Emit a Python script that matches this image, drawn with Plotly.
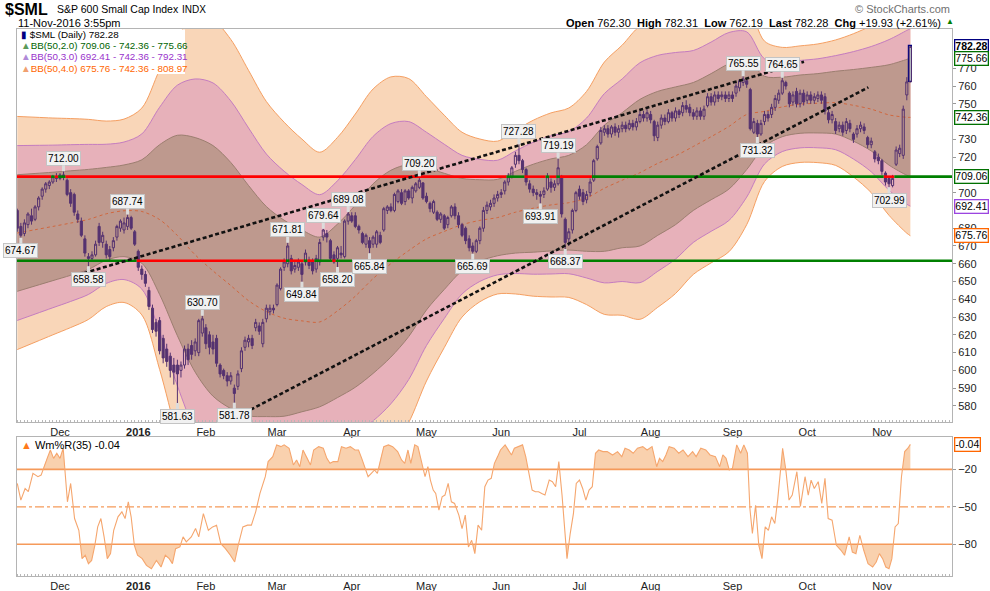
import plotly.graph_objects as go

# ------------------------------------------------------------------ data
# trading-day index 0 = 12-Nov-2015 ... 251 = 11-Nov-2016
opens = [690, 681, 677, 682, 687, 685, 692, 698, 702, 704,
         706, 709, 708, 710, 707, 700, 699, 688, 684, 674,
         664, 663, 665, 681, 672, 671, 668, 669, 675, 680,
         679, 681, 686, 678, 667, 657, 654, 645, 635, 627,
         628, 618, 612, 608, 603, 603, 600, 603, 612, 614,
         611, 610, 621, 624, 620, 616, 618, 603, 600, 597,
         594, 590, 591, 601, 613, 616, 618, 624, 625, 615,
         629, 633, 635, 637, 646, 658, 660, 663, 657, 658,
         660, 661, 662, 661, 657, 661, 675, 677, 673, 665,
         663, 666, 664, 684, 687, 687, 681, 677, 671, 673,
         671, 671, 676, 679, 690, 692, 690, 695, 700, 695,
         701, 697, 701, 703, 705.5, 698, 694, 689, 689, 685,
         687, 682, 687, 692, 687, 682, 680, 674, 670, 667,
         673, 680, 690, 692, 694, 697, 699, 701, 706, 709,
         716, 721, 718, 713, 705, 702, 700, 699, 699, 702,
         706, 703, 705, 709, 685, 674, 679, 690, 702, 700,
         696, 700, 707, 719, 728, 734, 736, 733, 737, 734,
         736, 738, 736, 739, 737, 740, 744, 742, 744, 740,
         731, 738, 742, 740, 745, 742, 746, 745, 749, 748,
         745, 743, 746, 743, 749, 754, 751, 755, 754, 755,
         753, 755, 756, 759, 762, 763, 758, 734, 739, 733,
         740, 744, 744, 748, 752, 756, 762, 756, 751, 757,
         750, 756, 752, 755, 752, 753, 755, 754, 745, 741,
         740, 736, 738, 735, 739, 733, 733, 736, 737, 731,
         727, 723, 720, 718, 711, 708, 704, 716, 722, 721,
         755, 762.30]
highs = [691, 683, 685, 689, 691, 693, 698, 703, 706, 707,
         710, 711, 711, 712.00, 708, 702, 700, 690, 686, 676,
         666, 667, 673, 683, 678, 673, 670, 675, 682, 685,
         686, 687.74, 687, 679, 668, 659, 656, 647, 637, 629,
         630, 620, 615, 610, 607, 606, 605, 614, 615, 617,
         618, 629, 630.70, 626, 622, 620, 620, 604, 601, 599,
         599, 592, 600, 613, 619, 620, 620, 629, 627, 629,
         637, 637, 637, 649, 658, 663, 671.81, 665, 661, 663,
         662, 668, 664, 663, 665, 674, 679.64, 679, 674, 667,
         670, 670, 685, 689.08, 689, 689, 682, 678, 677, 675,
         676, 679, 678, 692, 693, 694, 700, 702, 702, 702,
         702, 704, 706, 709.20, 706, 700, 695, 696, 690, 689,
         688, 687, 693, 694, 689, 683, 681, 676, 672, 674,
         681, 692, 695, 696, 699, 701, 702, 707, 711, 715,
         723, 727.28, 719, 714, 707, 704, 702, 701, 703, 711,
         708, 707, 719.19, 710, 686, 680, 691, 701, 704, 702,
         701, 708, 719, 727, 737, 738, 738, 738, 739, 738,
         740, 740, 741, 741, 742, 746, 746, 747, 746, 741,
         740, 744, 744, 747, 746, 748, 747, 751, 752, 750,
         747, 748, 748, 749, 756, 756, 757, 757, 757, 757,
         757, 757, 762, 764, 765.55, 764, 759, 742, 741, 741,
         746, 746, 750, 755, 758, 764.65, 763, 757, 757, 759,
         758, 758, 757, 757, 756, 757, 757, 756, 747, 746,
         742, 740, 740, 742, 741, 734, 738, 740, 739, 732,
         731, 724, 722, 719, 712, 709, 710, 726, 727, 749,
         765, 782.31]
lows = [678, 674.67, 675.5, 680, 682, 684, 690, 696, 700, 702,
        705, 706, 707, 707, 698, 692, 687, 683, 675, 664,
        658.58, 661, 664, 670, 669, 663, 662, 667, 673, 678,
        677, 679, 679, 670, 656, 651, 647, 634, 621, 619,
        609, 604, 602, 596, 592, 581.63, 596, 601, 603, 606,
        608, 608, 619, 612, 609, 609, 602, 596, 595, 591,
        592, 581.78, 589, 599, 611, 613, 612, 622, 620, 613,
        627, 631, 632, 636, 645, 656, 658, 654, 655, 656,
        649.84, 659, 657, 654, 655, 659, 673, 672, 662, 660,
        658.20, 663, 663, 682, 683, 680, 677, 671, 669, 665.84,
        669, 669, 671, 678, 688, 689, 689, 694, 693, 693,
        696, 694, 700, 702, 696, 694, 689, 688, 684, 683,
        679, 680, 686, 685, 680, 675, 671, 667, 665.69, 666,
        671, 678, 688, 690, 692, 695, 697, 699, 704, 708,
        714, 716, 711, 704, 700, 698, 696, 693.91, 697, 701,
        700, 701, 704, 686, 668.37, 670, 677, 689, 696, 693,
        694, 698, 706, 718, 727, 732, 731, 731, 732, 731,
        734, 734, 735, 735, 735, 739, 740, 740, 739, 729,
        729, 736, 738, 739, 740, 740, 742, 743, 745, 743,
        741, 741, 741, 741, 748, 749, 749, 751, 752, 751,
        751, 751, 754, 757, 760, 759, 735, 733, 731.32, 732,
        738, 740, 742, 746, 750, 755, 758, 748, 749, 748,
        748, 749, 750, 750, 750, 751, 750, 744, 739, 739,
        733, 734, 732, 733, 734, 728, 731, 734, 733, 725,
        725, 717, 716, 710, 704, 702.99, 703, 715, 720, 719,
        752, 762.19]
closes = [680, 676, 683, 688, 684, 692, 697, 702, 705, 706,
          709, 708, 710, 709, 699, 694, 689, 685, 676, 666,
          663, 665, 671, 672, 676, 665, 664, 673, 681, 684,
          683, 686, 680, 671, 658, 654, 649, 636, 623, 622,
          611, 607, 605, 600, 599, 598, 603, 612, 606, 609,
          616, 628, 629, 615, 613, 612, 604, 598, 597, 594,
          597, 587, 598, 611, 617, 618, 614, 627, 622, 627,
          635, 635, 634, 648, 657, 661, 670, 656, 659, 661,
          654, 666, 659, 656, 663, 672, 679, 675, 663, 661,
          669, 665, 684, 688, 684, 681, 679, 672, 676, 669,
          675, 678, 672, 691, 692, 690, 699, 701, 694, 701,
          697, 703, 705, 707, 697, 695, 691, 695, 685, 688,
          680, 686, 692, 687, 682, 676, 673, 669, 667, 673,
          680, 690, 693, 694, 697, 699, 700, 706, 709, 714,
          721, 718, 713, 706, 702, 700, 699, 698, 701, 709,
          703, 705, 714, 688, 672, 678, 690, 700, 698, 695,
          699, 706, 718, 726, 735, 736, 733, 737, 734, 736,
          738, 736, 739, 737, 740, 744, 742, 745, 741, 732,
          738, 742, 740, 745, 742, 746, 744, 749, 747, 745,
          743, 746, 743, 747, 754, 751, 755, 753, 755, 753,
          755, 753, 760, 763, 764, 761, 736, 740, 733, 739,
          744, 742, 748, 753, 756, 763, 760, 750, 755, 750,
          756, 751, 755, 752, 754, 755, 752, 746, 741, 744,
          735, 738, 734, 740, 736, 730, 736, 738, 735, 727,
          729, 719, 718, 712, 706, 705, 708, 724, 725, 747,
          762.35, 782.28]
days = list(range(len(closes)))

month_days = [12, 34, 53, 73, 94, 115, 136, 158, 178, 201, 222, 243]
month_labels = ["Dec", "<b>2016</b>", "Feb", "Mar", "Apr", "May", "Jun",
                "Jul", "Aug", "Sep", "Oct", "Nov"]
price_ticks = [580, 590, 600, 610, 620, 630, 640, 650, 660, 670, 680,
               700, 720, 730, 750, 760, 770]

# Bollinger (50, 2.0) envelope
bb_day = [0, 5, 10, 15, 20, 25, 30, 35, 40, 45, 50, 55, 60, 65, 70, 75, 80,
          85, 90, 95, 100, 105, 110, 115, 120, 125, 130, 135, 140, 145, 150,
          155, 160, 165, 170, 175, 180, 185, 190, 195, 200, 205, 210, 215,
          220, 225, 230, 235, 240, 245, 250, 251]
bb_upper2 = [710.1, 710.8, 711.5, 712.3, 713.1, 714.2, 715.6, 718.5, 727, 732.3,
             731, 726.5, 717, 704, 692.2, 684.5, 679, 675, 682.3, 693, 705,
             712.6, 715.8, 714, 710.9, 708, 707.3, 707.5, 712, 716, 719, 721,
             727, 738, 745, 752.5, 757, 759.5, 762, 767, 772.5, 775, 765.5,
             765, 766.2, 767, 768.3, 769.3, 770.5, 772, 775, 775.66]
bb_lower2 = [644.5, 647.5, 650.5, 653.5, 656.8, 662, 664, 660.3, 642.7, 619.5,
             599, 585.5, 578.5, 574.4, 574, 574.2, 576.7, 579.5, 584.7, 590.5,
             598.3, 607.5, 619, 634, 645.5, 656, 661.5, 664.5, 666, 666.5,
             667.2, 667.7, 667, 667, 669, 670, 676, 682, 690, 696, 702, 713,
             726, 731.5, 733.4, 733.6, 733, 729, 723.5, 715.5, 709.8, 709.06]

# Williams %R (35)
wr_day = [0.0, 1.0, 2.2, 3.1, 4.4, 5.8, 6.7, 7.6, 8.4, 9.3,
          10.2, 11.1, 12.0, 12.9, 14.1, 15.0, 16.1, 17.3, 18.2, 19.1,
          20.0, 20.9, 21.8, 22.6, 23.5, 24.4, 25.3, 26.2, 27.1, 28.3,
          29.4, 30.3, 31.2, 32.0, 32.9, 33.8, 35.1, 36.3, 37.7, 39.1,
          40.4, 41.6, 42.7, 43.6, 44.5, 45.7, 46.6, 47.5, 48.9, 50.1,
          51.0, 52.3, 53.7, 54.9, 56.0, 57.2, 58.5, 59.9, 61.1, 62.2,
          63.4, 64.7, 65.8, 67.0, 68.2, 69.7, 70.5, 71.8, 72.9, 74.1,
          75.0, 76.4, 77.6, 78.5, 79.4, 80.3, 81.6, 82.4, 83.3, 84.7,
          86.0, 87.0, 87.9, 88.8, 90.1, 91.1, 92.4, 93.6, 94.9, 95.9,
          96.8, 97.7, 98.6, 99.5, 100.4, 101.2, 102.1, 103.0, 104.3, 105.5,
          106.9, 108.0, 108.9, 109.8, 110.6, 111.7, 112.6, 113.7, 114.6, 115.4,
          116.1, 116.9, 117.6, 118.5, 119.4, 120.2, 121.1, 122.0, 122.9, 124.1,
          125.0, 125.9, 126.8, 127.7, 128.6, 129.5, 130.5, 131.4, 132.3, 133.2,
          134.1, 135.0, 135.8, 137.1, 138.0, 138.9, 139.7, 141.0, 142.0, 142.9,
          143.8, 144.7, 145.6, 146.5, 147.4, 148.3, 149.5, 150.4, 151.3, 152.2,
          153.1, 153.9, 154.5, 155.4, 156.3, 157.1, 158.0, 158.9, 159.8, 160.7,
          161.6, 162.5, 163.4, 164.6, 165.8, 167.3, 168.7, 169.9, 170.8, 172.0,
          173.1, 174.3, 175.8, 177.0, 178.4, 179.7, 180.5, 181.4, 182.3, 183.2,
          184.6, 185.9, 187.1, 188.5, 189.8, 190.8, 192.1, 193.5, 194.7, 196.2,
          197.4, 198.3, 199.2, 200.1, 201.0, 202.2, 203.3, 204.2, 205.2, 205.9,
          206.6, 207.5, 208.4, 209.3, 210.2, 211.1, 212.0, 212.9, 213.7, 215.1,
          216.0, 216.9, 217.8, 219.1, 220.1, 221.4, 222.3, 223.1, 224.0, 225.1,
          226.1, 227.0, 227.9, 229.0, 230.2, 231.5, 232.5, 233.8, 234.7, 235.7,
          236.8, 237.9, 239.1, 240.4, 241.4, 242.3, 243.2, 244.1, 245.0, 245.8,
          246.7, 247.6, 248.5, 249.4, 250.3, 251.0]
wr_val = [-31.3, -44.6, -35.3, -37.9, -23.2, -25.9, -24.6, -16.5, -11.2, -4.5,
          -11.2, -7.1, -11.2, -3.1, -46.0, -31.3, -59.4, -68.8, -91.5, -88.8,
          -95.5, -92.9, -80.8, -66.1, -59.4, -74.1, -91.5, -87.5, -68.8, -58.0,
          -54.0, -59.4, -46.0, -58.0, -80.8, -88.8, -91.5, -96.9, -99.6, -92.9,
          -98.2, -88.8, -91.5, -95.5, -83.5, -82.1, -74.1, -78.1, -74.1, -67.4,
          -74.1, -55.4, -68.8, -66.1, -64.7, -79.5, -83.5, -88.8, -94.2, -79.5,
          -66.1, -64.7, -64.7, -54.0, -39.3, -25.9, -13.8, -9.8, -0.4, -1.8,
          -0.4, -3.1, -16.5, -12.5, -17.9, -4.5, -11.2, -16.5, -4.5, -1.8,
          -3.1, -11.2, -15.2, -13.8, -13.8, -1.8, -3.1, -1.8, -4.5, -4.5,
          -11.2, -17.9, -25.9, -23.2, -20.5, -23.2, -11.2, -1.8, -0.4, -1.8,
          -5.8, -12.5, -15.2, -4.5, -15.2, -0.4, -1.8, -15.2, -25.9, -17.9,
          -28.6, -36.6, -39.3, -52.7, -42.0, -40.6, -31.3, -46.0, -47.3, -56.7,
          -67.4, -56.7, -82.1, -76.8, -87.5, -64.7, -68.8, -33.9, -28.6, -27.2,
          -15.2, -9.8, -4.5, -0.4, -4.5, -8.5, -3.1, -1.8, -0.4, -9.8,
          -24.6, -36.6, -37.9, -37.9, -39.3, -40.6, -28.6, -29.9, -33.9, -13.8,
          -40.6, -74.1, -91.5, -71.4, -55.4, -31.3, -28.6, -35.3, -44.6, -36.6,
          -33.9, -7.1, -4.5, -5.8, -5.8, -8.5, -5.8, -9.8, -3.1, -4.5,
          -7.1, -3.1, -1.8, -4.5, -1.8, -17.9, -11.2, -13.8, -8.5, -1.8,
          -3.1, -7.1, -4.5, -9.8, -5.8, -9.8, -3.1, -4.5, -8.5, -9.8,
          -17.9, -8.5, -11.2, -20.5, -19.2, -0.4, -7.1, -0.4, -7.1, -51.3,
          -71.4, -48.7, -80.8, -91.5, -66.1, -68.8, -58.0, -63.4, -44.6, -3.1,
          -20.5, -44.6, -40.6, -21.9, -49.7, -25.9, -40.6, -28.6, -35.3, -29.9,
          -47.3, -27.2, -59.4, -60.7, -80.8, -84.8, -88.8, -74.1, -86.2, -87.5,
          -72.8, -84.8, -95.5, -98.2, -94.2, -87.5, -91.5, -98.2, -99.6, -91.5,
          -66.1, -63.4, -25.9, -5.8, -3.1, -0.04]
wr_levels = [-20, -50, -80]

# horizontal support / resistance levels and trend lines
level_values = [709.0, 661.7]
trend_day = [[15.3, 221.1], [59.1, 239.2]]
trend_val = [[652.7, 773.7], [571.1, 759.3]]

# labelled swing points
swing_day = [1, 13, 20, 31, 45, 52, 61, 76, 80, 86, 90, 93, 99, 113, 128,
             141, 147, 152, 154, 204, 208, 215, 245]
swing_val = [674.67, 712.00, 658.58, 687.74, 581.63, 630.70, 581.78, 671.81,
             649.84, 679.64, 658.20, 689.08, 665.84, 709.20, 665.69, 727.28,
             693.91, 719.19, 668.37, 765.55, 731.32, 764.65, 702.99]
swing_kind = ["L", "H", "L", "H", "L", "H", "L", "H", "L", "H", "L", "H", "L",
              "H", "L", "H", "L", "H", "L", "H", "L", "H", "L"]

# ------------------------------------------------------------------ layout helpers
W, H = 990, 591
FONT = "Liberation Sans, Arial, sans-serif"
X_RANGE = [-0.08, 262.7]
Y_RANGE = [570.95, 792.1]
Y2_RANGE = [-105.4, 5.9]
CANDLE = "#553270"


def px(xp):
    return xp / W


def py(yp):
    return 1 - yp / H


fig = go.Figure()

# ------------------------------------------------------------------ Bollinger bands (base layer)
mid = [(u + l) / 2 for u, l in zip(bb_upper2, bb_lower2)]
sd = [(u - l) / 4 for u, l in zip(bb_upper2, bb_lower2)]
band_styles = [(4, "#F9D6B8", "#F59F62"), (3, "#E7B1BA", "#C47CC0"),
               (2, "#BE998E", "#9C7E70")]
for k, fillc, edge in band_styles:
    up = [m + k * s for m, s in zip(mid, sd)]
    lo = [m - k * s for m, s in zip(mid, sd)]
    fig.add_trace(go.Scatter(x=bb_day, y=lo, mode="lines",
                             line=dict(color=edge, width=1, shape="spline", smoothing=0.9),
                             hoverinfo="skip"))
    fig.add_trace(go.Scatter(x=bb_day, y=up, mode="lines", fill="tonexty",
                             fillcolor=fillc,
                             line=dict(color=edge, width=1, shape="spline", smoothing=0.9),
                             hoverinfo="skip"))
fig.add_trace(go.Scatter(x=bb_day, y=mid, mode="lines",
                         line=dict(color="#D0673E", width=1, dash="dot",
                                   shape="spline", smoothing=0.9),
                         hoverinfo="skip"))

# ------------------------------------------------------------------ candles (overlay layer)
fig.add_trace(go.Candlestick(
    x=days, open=opens, high=highs, low=lows, close=closes,
    increasing=dict(line=dict(color=CANDLE, width=1), fillcolor="rgba(0,0,0,0)"),
    decreasing=dict(line=dict(color=CANDLE, width=1), fillcolor=CANDLE),
    whiskerwidth=0, hoverinfo="skip", xaxis="x", yaxis="y3"))
fig.add_trace(go.Bar(x=[days[-1]], base=[opens[-1]], y=[closes[-1] - opens[-1]],
                     width=0.85,
                     marker=dict(color="#EEF7DA", line=dict(color="#000080", width=1.2)),
                     hoverinfo="skip", xaxis="x", yaxis="y3"))

# ------------------------------------------------------------------ level lines (green above, red below)
for level in level_values:
    runs = []
    cur, start = None, None
    for i, c in enumerate(closes):
        col = "#008000" if c >= level else "#FF0000"
        if col != cur:
            if cur is not None:
                runs.append([cur, start, i - 0.5])
            cur, start = col, i - 0.5
    runs.append([cur, start, len(closes) - 0.5])
    runs[0][1] = X_RANGE[0]
    runs[-1][2] = X_RANGE[1]
    for col in ("#FF0000", "#008000"):
        xs, ys = [], []
        for r in runs:
            if r[0] == col:
                xs += [r[1], r[2], None]
                ys += [level, level, None]
        fig.add_trace(go.Scatter(x=xs, y=ys, mode="lines",
                                 line=dict(color=col, width=2.6), hoverinfo="skip",
                                 xaxis="x", yaxis="y3"))

# ------------------------------------------------------------------ trend lines
for tx, tv in zip(trend_day, trend_val):
    fig.add_trace(go.Scatter(x=tx, y=tv, mode="lines",
                             line=dict(color="#111111", width=2.6, dash="4px,2.5px"),
                             hoverinfo="skip", xaxis="x", yaxis="y3"))


# ------------------------------------------------------------------ Williams %R panel
def insert_crossings(xs, ys, level):
    ox, oy = [xs[0]], [ys[0]]
    for i in range(1, len(xs)):
        y0, y1 = ys[i - 1], ys[i]
        if (y0 - level) * (y1 - level) < 0:
            t = (level - y0) / (y1 - y0)
            ox.append(xs[i - 1] + t * (xs[i] - xs[i - 1]))
            oy.append(level)
        ox.append(xs[i])
        oy.append(ys[i])
    return ox, oy


fx, fy = insert_crossings(wr_day, wr_val, wr_levels[0])
fx, fy = insert_crossings(fx, fy, wr_levels[2])
WR_FILL = "#F9D1AE"
WR_LINE = "#F5A66E"
fig.add_trace(go.Scatter(x=fx, y=[wr_levels[0]] * len(fx), mode="lines",
                         line=dict(width=0, color=WR_LINE), xaxis="x2", yaxis="y2",
                         hoverinfo="skip"))
fig.add_trace(go.Scatter(x=fx, y=[max(v, wr_levels[0]) for v in fy], mode="lines",
                         line=dict(width=0, color=WR_LINE), fill="tonexty",
                         fillcolor=WR_FILL, xaxis="x2", yaxis="y2", hoverinfo="skip"))
fig.add_trace(go.Scatter(x=fx, y=[wr_levels[2]] * len(fx), mode="lines",
                         line=dict(width=0, color=WR_LINE), xaxis="x2", yaxis="y2",
                         hoverinfo="skip"))
fig.add_trace(go.Scatter(x=fx, y=[min(v, wr_levels[2]) for v in fy], mode="lines",
                         line=dict(width=0, color=WR_LINE), fill="tonexty",
                         fillcolor=WR_FILL, xaxis="x2", yaxis="y2", hoverinfo="skip"))
for lv, dash, wd in [(wr_levels[0], "solid", 1.6), (wr_levels[1], "dashdot", 1.2),
                     (wr_levels[2], "solid", 1.6)]:
    fig.add_trace(go.Scatter(x=X_RANGE, y=[lv, lv], mode="lines",
                             line=dict(color="#F59A5A", width=wd, dash=dash),
                             xaxis="x2", yaxis="y2", hoverinfo="skip"))
fig.add_trace(go.Scatter(x=wr_day, y=wr_val, mode="lines",
                         line=dict(color=WR_LINE, width=1.1), xaxis="x2", yaxis="y2",
                         hoverinfo="skip"))

# ------------------------------------------------------------------ annotations
ann = []
for d, v, kd in zip(swing_day, swing_val, swing_kind):
    ann.append(dict(x=d, y=v, xref="x", yref="y", text=f"{v:.2f}", showarrow=True,
                    arrowhead=0, arrowwidth=3, arrowcolor="#DCDCDC", ax=0,
                    ay=-13 if kd == "H" else 13,
                    font=dict(family=FONT, size=10, color="#000"),
                    bgcolor="#F1F1F1", bordercolor="#C4C4C4", borderwidth=1, borderpad=1))

mid_last = mid[-1]
sd_last = sd[-1]
tags = [(mid_last + 3 * sd_last, "#9B45E0", False), (closes[-1], "#000080", True),
        (mid_last + 2 * sd_last, "#007000", False), (mid_last, "#007000", False),
        (mid_last - 2 * sd_last, "#007000", False), (mid_last - 3 * sd_last, "#9B45E0", False),
        (mid_last - 4 * sd_last, "#FF6600", False)]
for v, col, bold in tags:
    txt = f"{v:.2f}"
    if bold:
        txt = f"<b>{txt}</b>"
    ann.append(dict(x=px(954), y=v, xref="paper", yref="y", text=txt, showarrow=False,
                    xanchor="left", yanchor="middle",
                    font=dict(family=FONT, size=10.5, color="#000"),
                    bgcolor="#FFFFFF", bordercolor=col, borderwidth=1.3, borderpad=0))
ann.append(dict(x=px(954), y=wr_val[-1], xref="paper", yref="y2", text=f"{wr_val[-1]:.2f}",
                showarrow=False, xanchor="left", yanchor="middle",
                font=dict(family=FONT, size=10.5, color="#000"), bgcolor="#FFFFFF",
                bordercolor="#FF6600", borderwidth=1.3, borderpad=0))

ann += [
    dict(x=px(3), y=py(9), xref="paper", yref="paper", text="<b>$SML</b>",
         showarrow=False, xanchor="left", yanchor="middle",
         font=dict(family=FONT, size=16, color="#000")),
    dict(x=px(55), y=py(9), xref="paper", yref="paper", text="S&P 600 Small Cap Index",
         showarrow=False, xanchor="left", yanchor="middle",
         font=dict(family=FONT, size=10.5, color="#000")),
    dict(x=px(180), y=py(9), xref="paper", yref="paper", text="INDX",
         showarrow=False, xanchor="left", yanchor="middle",
         font=dict(family=FONT, size=10, color="#000")),
    dict(x=px(16), y=py(23), xref="paper", yref="paper", text="11-Nov-2016 3:55pm",
         showarrow=False, xanchor="left", yanchor="middle",
         font=dict(family=FONT, size=11, color="#000")),
    dict(x=px(952), y=py(9), xref="paper", yref="paper", text="© StockCharts.com",
         showarrow=False, xanchor="right", yanchor="middle",
         font=dict(family=FONT, size=11, color="#707070")),
    dict(x=px(943), y=py(22.5), xref="paper", yref="paper",
         text="<b>Open</b> 762.30 &nbsp;<b>High</b> 782.31 &nbsp;<b>Low</b> 762.19 "
              "&nbsp;<b>Last</b> 782.28 &nbsp;<b>Chg</b> +19.93 (+2.61%)",
         showarrow=False, xanchor="right", yanchor="middle",
         font=dict(family=FONT, size=11, color="#000")),
    dict(x=px(944), y=py(22), xref="paper", yref="paper", text="▲",
         showarrow=False, xanchor="left", yanchor="middle",
         font=dict(family=FONT, size=8, color="#008000")),
]
legend_rows = [
    ("<span style='color:#000080'>▮</span> $SML (Daily) 782.28", "#000000", 35),
    ("<span style='color:#5a9a5a'>▲</span>BB(50,2.0) 709.06 - 742.36 - 775.66", "#006400", 46),
    ("<span style='color:#b08ad8'>▲</span>BB(50,3.0) 692.41 - 742.36 - 792.31", "#9933CC", 57),
    ("<span style='color:#f0a070'>▲</span>BB(50,4.0) 675.76 - 742.36 - 808.97", "#FF6600", 68),
]
for txt, col, yp in legend_rows:
    ann.append(dict(x=px(19), y=py(yp), xref="paper", yref="paper", text=txt,
                    showarrow=False, xanchor="left", yanchor="middle",
                    font=dict(family=FONT, size=9.8, color=col)))
ann.append(dict(x=px(19), y=py(445), xref="paper", yref="paper",
                text="<span style='color:#FF7A1A'>▲</span> Wm%R(35) -0.04",
                showarrow=False, xanchor="left", yanchor="middle",
                font=dict(family=FONT, size=11, color="#000")))

shapes = [dict(type="rect", xref="paper", yref="paper", x0=px(17.5), x1=px(185),
               y0=py(29.5), y1=py(74), fillcolor="#FFFFFF", line=dict(width=0),
               layer="above")]

axis_common = dict(showgrid=False, zeroline=False, showline=True, mirror=True,
                   linecolor="#B4B4B4", linewidth=1)
fig.update_layout(
    width=W, height=H, margin=dict(l=0, r=0, t=0, b=0),
    paper_bgcolor="#FFFFFF", plot_bgcolor="#FFFFFF",
    showlegend=False, hovermode=False, bargap=0, boxgap=0.15,
    xaxis=dict(domain=[px(17), px(952)], range=X_RANGE, anchor="y",
               tickmode="array", tickvals=month_days, ticktext=month_labels,
               ticks="", tickfont=dict(family=FONT, size=11, color="#222"),
               rangeslider=dict(visible=False),
               minor=dict(ticks="inside", ticklen=2, tick0=0, dtick=1, tickcolor="#B8B8B8"),
               **axis_common),
    yaxis=dict(domain=[py(422), py(29)], range=Y_RANGE, side="right", anchor="x",
               tickmode="array", tickvals=price_ticks, ticks="outside", ticklen=3,
               tickcolor="#999", tickfont=dict(family=FONT, size=11, color="#222"),
               **axis_common),
    yaxis3=dict(range=Y_RANGE, overlaying="y", anchor="x", side="right",
                visible=False, showgrid=False, zeroline=False),
    xaxis2=dict(domain=[px(17), px(952)], range=X_RANGE, anchor="y2",
                tickmode="array", tickvals=month_days, ticktext=month_labels,
                ticks="", tickfont=dict(family=FONT, size=11, color="#222"),
                minor=dict(ticks="inside", ticklen=2, tick0=0, dtick=1, tickcolor="#B8B8B8"),
                **axis_common),
    yaxis2=dict(domain=[py(576), py(437)], range=Y2_RANGE, side="right", anchor="x2",
                tickmode="array", tickvals=wr_levels, ticks="outside", ticklen=3,
                tickcolor="#999", tickfont=dict(family=FONT, size=11, color="#222"),
                **axis_common),
    annotations=ann, shapes=shapes,
)

fig.write_html("out.html")
